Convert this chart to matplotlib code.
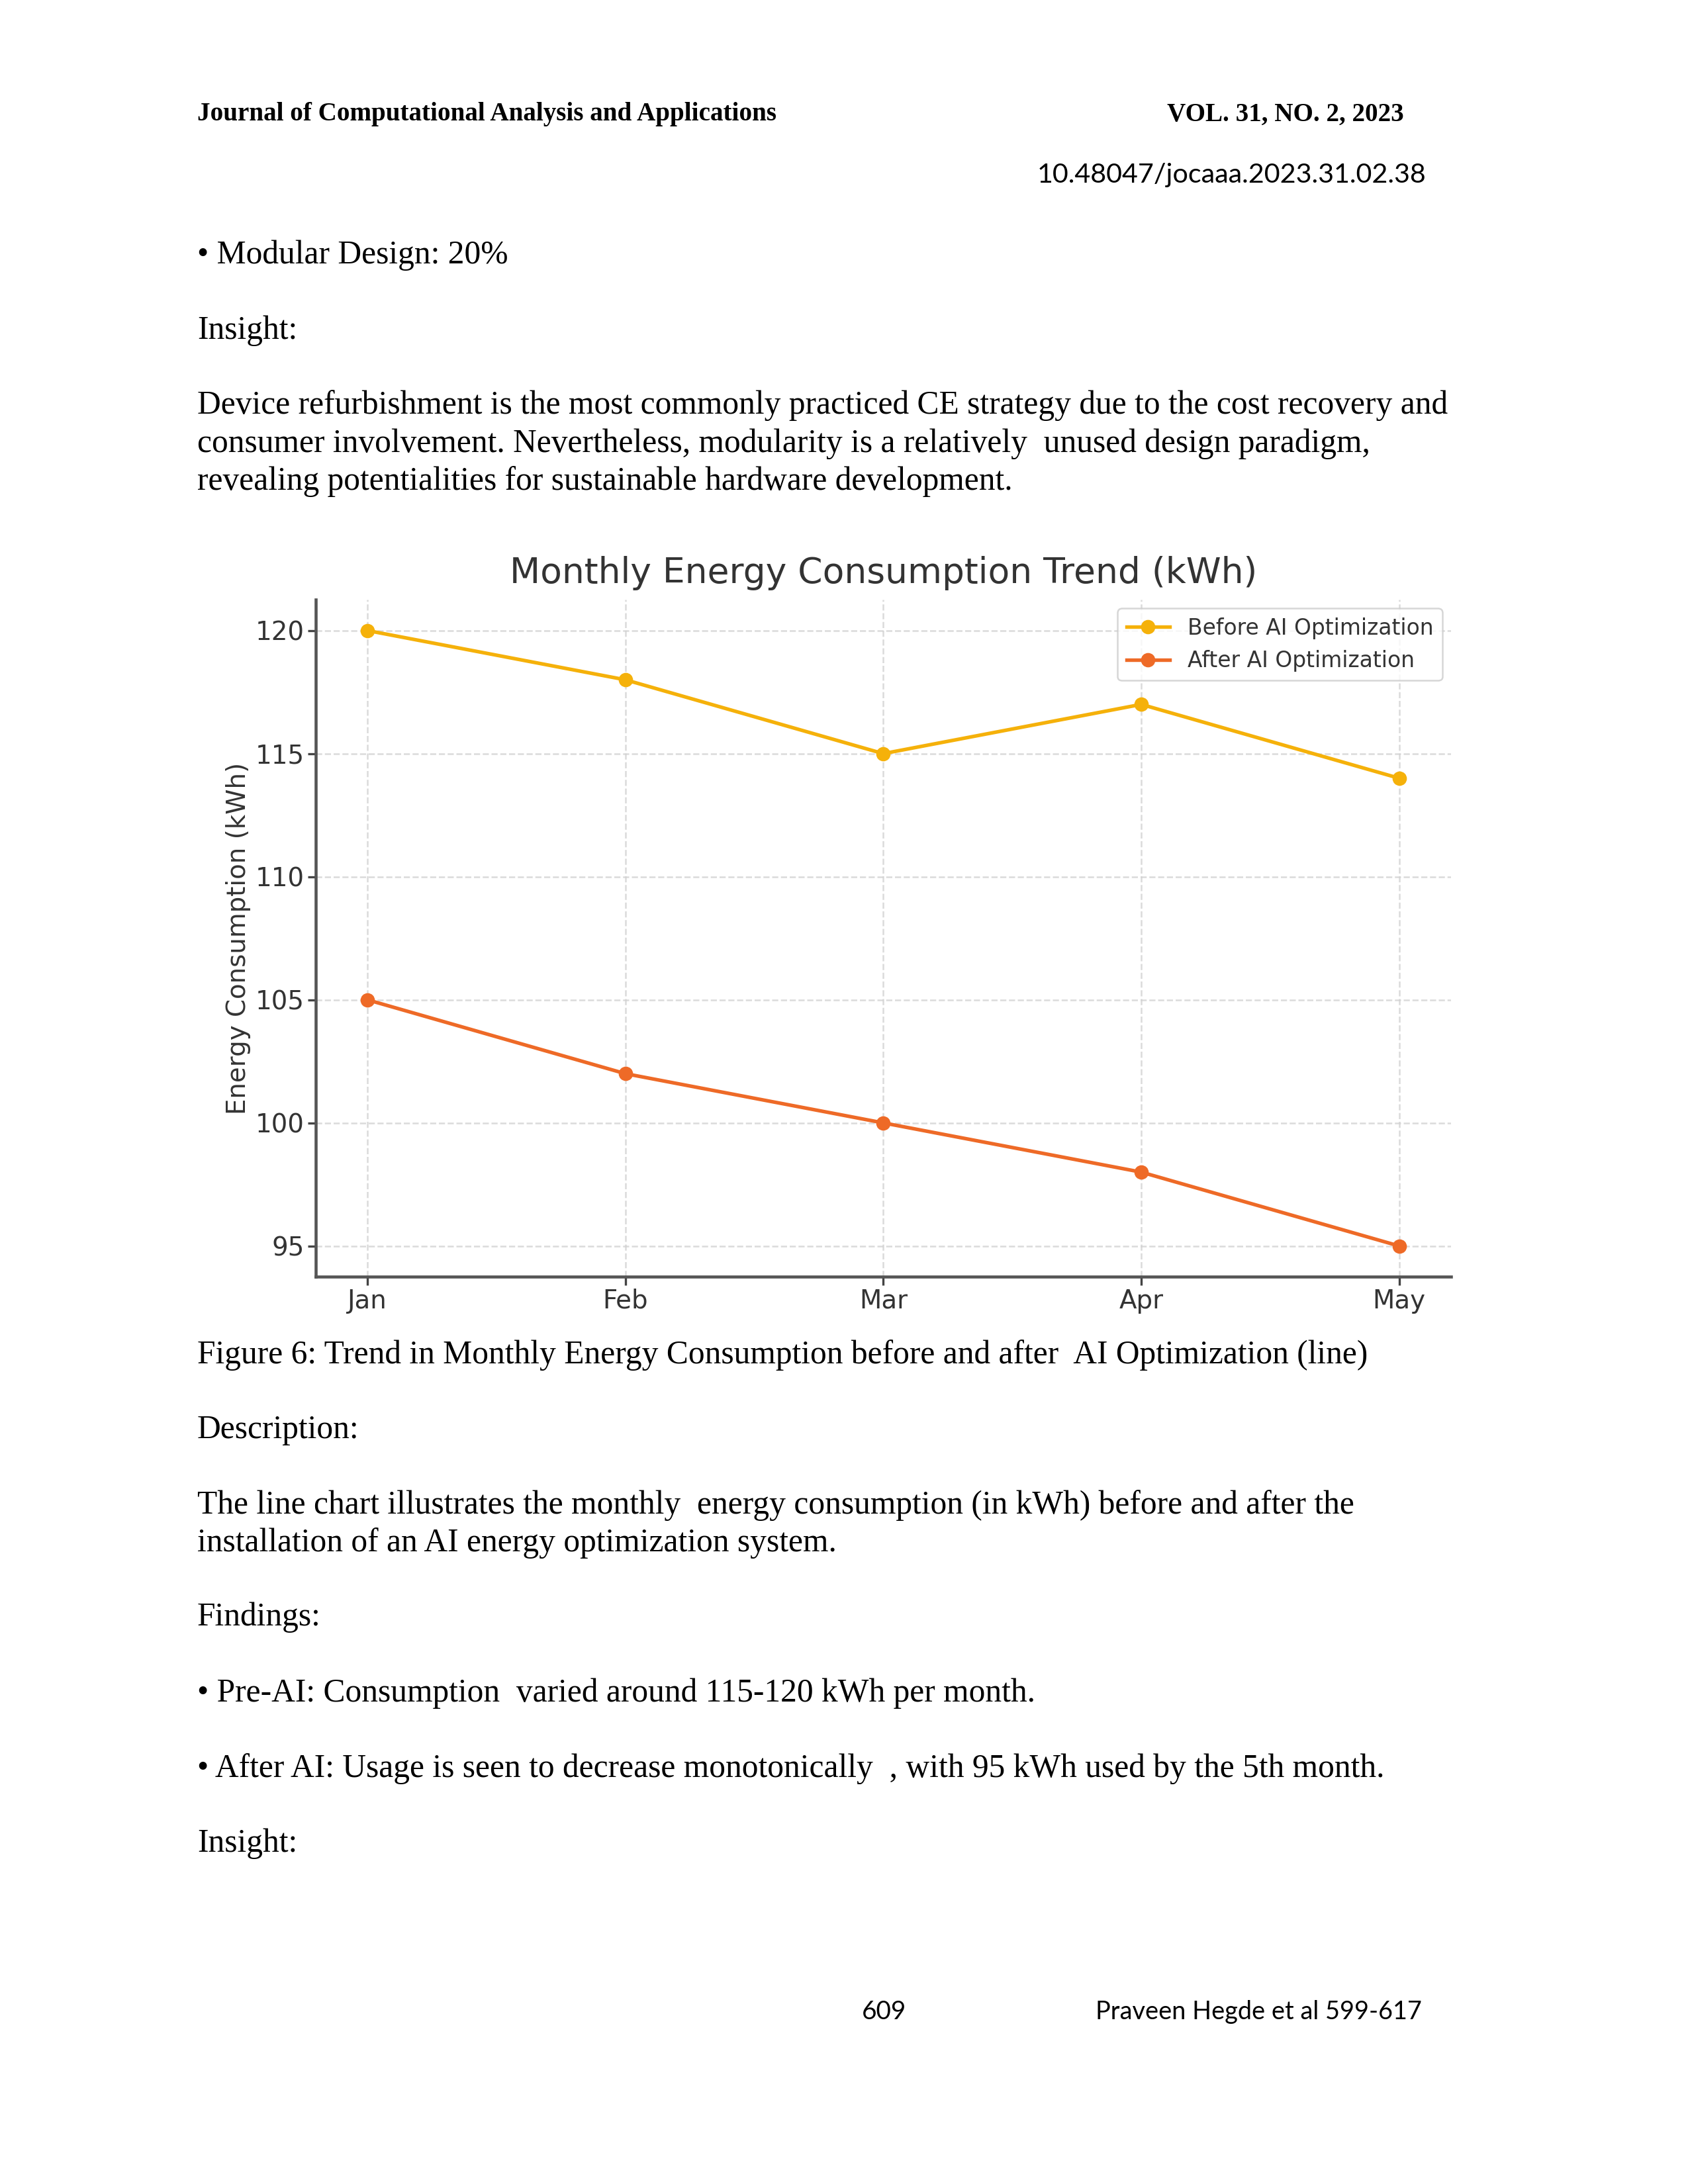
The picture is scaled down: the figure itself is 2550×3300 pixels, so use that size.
import matplotlib
matplotlib.use("Agg")
import matplotlib.pyplot as plt

# ---------------- data ----------------
months = ["Jan", "Feb", "Mar", "Apr", "May"]
before_ai = [120, 118, 115, 117, 114]
after_ai = [105, 102, 100, 98, 95]
series_labels = ["Before AI Optimization", "After AI Optimization"]
y_ticks = [95, 100, 105, 110, 115, 120]

chart_title = "Monthly Energy Consumption Trend (kWh)"
y_label = "Energy Consumption (kWh)"

header_left = "Journal of Computational Analysis and Applications"
header_right = "VOL. 31, NO. 2, 2023"
doi_text = "10.48047/jocaaa.2023.31.02.38"

body_top = [
    "\u2022 Modular Design: 20%",
    "Insight:",
    "Device refurbishment is the most commonly practiced CE strategy due to the cost recovery and",
    "consumer involvement. Nevertheless, modularity is a relatively  unused design paradigm,",
    "revealing potentialities for sustainable hardware development.",
]
body_bottom = [
    "Figure 6: Trend in Monthly Energy Consumption before and after  AI Optimization (line)",
    "Description:",
    "The line chart illustrates the monthly  energy consumption (in kWh) before and after the",
    "installation of an AI energy optimization system.",
    "Findings:",
    "\u2022 Pre-AI: Consumption  varied around 115-120 kWh per month.",
    "\u2022 After AI: Usage is seen to decrease monotonically  , with 95 kWh used by the 5th month.",
    "Insight:",
]
footer_page = "609"
footer_author = "Praveen Hegde et al 599-617"

# ---------------- layout ----------------
W, H = 1224.0, 1584.0  # reference display coordinates
def fx(x): return x / W
def fy(y): return 1 - y / H

fig = plt.figure(figsize=(8.5, 11), dpi=300)
fig.patch.set_facecolor("white")

serif = ["Liberation Serif", "DejaVu Serif"]
sans = ["Lato", "Open Sans", "DejaVu Sans"]

fig.text(fx(143), fy(83), header_left, family=serif, weight="bold",
         fontsize=9.4, va="center", ha="left", color="black")
fig.text(fx(1018), fy(83), header_right, family=serif, weight="bold",
         fontsize=9.4, va="center", ha="right", color="black")
fig.text(fx(1034), fy(127), doi_text, family=sans, fontsize=9.9,
         va="center", ha="right", color="black")

top_y = [185, 240, 294, 322, 349]
for t, y in zip(body_top, top_y):
    fig.text(fx(143), fy(y), t, family=serif, fontsize=11.9, va="center", ha="left")

bot_y = [983, 1037, 1092, 1119, 1173, 1228, 1283, 1337]
for t, y in zip(body_bottom, bot_y):
    fig.text(fx(143), fy(y), t, family=serif, fontsize=11.9, va="center", ha="left")

fig.text(fx(641), fy(1459), footer_page, family=sans, fontsize=9.3,
         va="center", ha="center")
fig.text(fx(1031), fy(1459), footer_author, family=sans, fontsize=9.1,
         va="center", ha="right")

# ---------------- chart ----------------
ax_left, ax_right = fx(229), fx(1052)
ax_bottom, ax_top = fy(926), fy(435)
ax = fig.add_axes([ax_left, ax_bottom, ax_right - ax_left, ax_top - ax_bottom])

c_before = "#F5B10A"
c_after = "#EE6A27"
x = list(range(len(months)))
ax.plot(x, before_ai, marker="o", color=c_before, lw=1.3, markersize=4.2,
        label=series_labels[0])
ax.plot(x, after_ai, marker="o", color=c_after, lw=1.3, markersize=4.2,
        label=series_labels[1])

ax.set_xticks(x)
ax.set_xticklabels(months)
ax.set_yticks(y_ticks)
ax.margins(x=0.05, y=0.05)

txtc = "#333333"
ax.set_title(chart_title, fontsize=12.85, color=txtc, pad=6,
             family="DejaVu Sans")
ax.set_ylabel(y_label, fontsize=9.3, color=txtc, labelpad=1.5)
ax.tick_params(axis="both", labelsize=9.3, colors="#444444", labelcolor=txtc,
               length=3, width=0.8, pad=1.2)

for s in ["top", "right"]:
    ax.spines[s].set_visible(False)
for s in ["left", "bottom"]:
    ax.spines[s].set_color("#555555")
    ax.spines[s].set_linewidth(1.1)

ax.grid(True, color="#d2d2d2", linestyle="--", linewidth=0.6, alpha=0.8)
ax.set_axisbelow(True)

leg = ax.legend(loc="upper right", fontsize=7.9, frameon=True,
                borderaxespad=0.4, handlelength=2.0)
leg.get_frame().set_edgecolor("#cccccc")
leg.get_frame().set_linewidth(0.6)
for t in leg.get_texts():
    t.set_color(txtc)

fig.savefig("out.png", dpi=300, facecolor="white")
